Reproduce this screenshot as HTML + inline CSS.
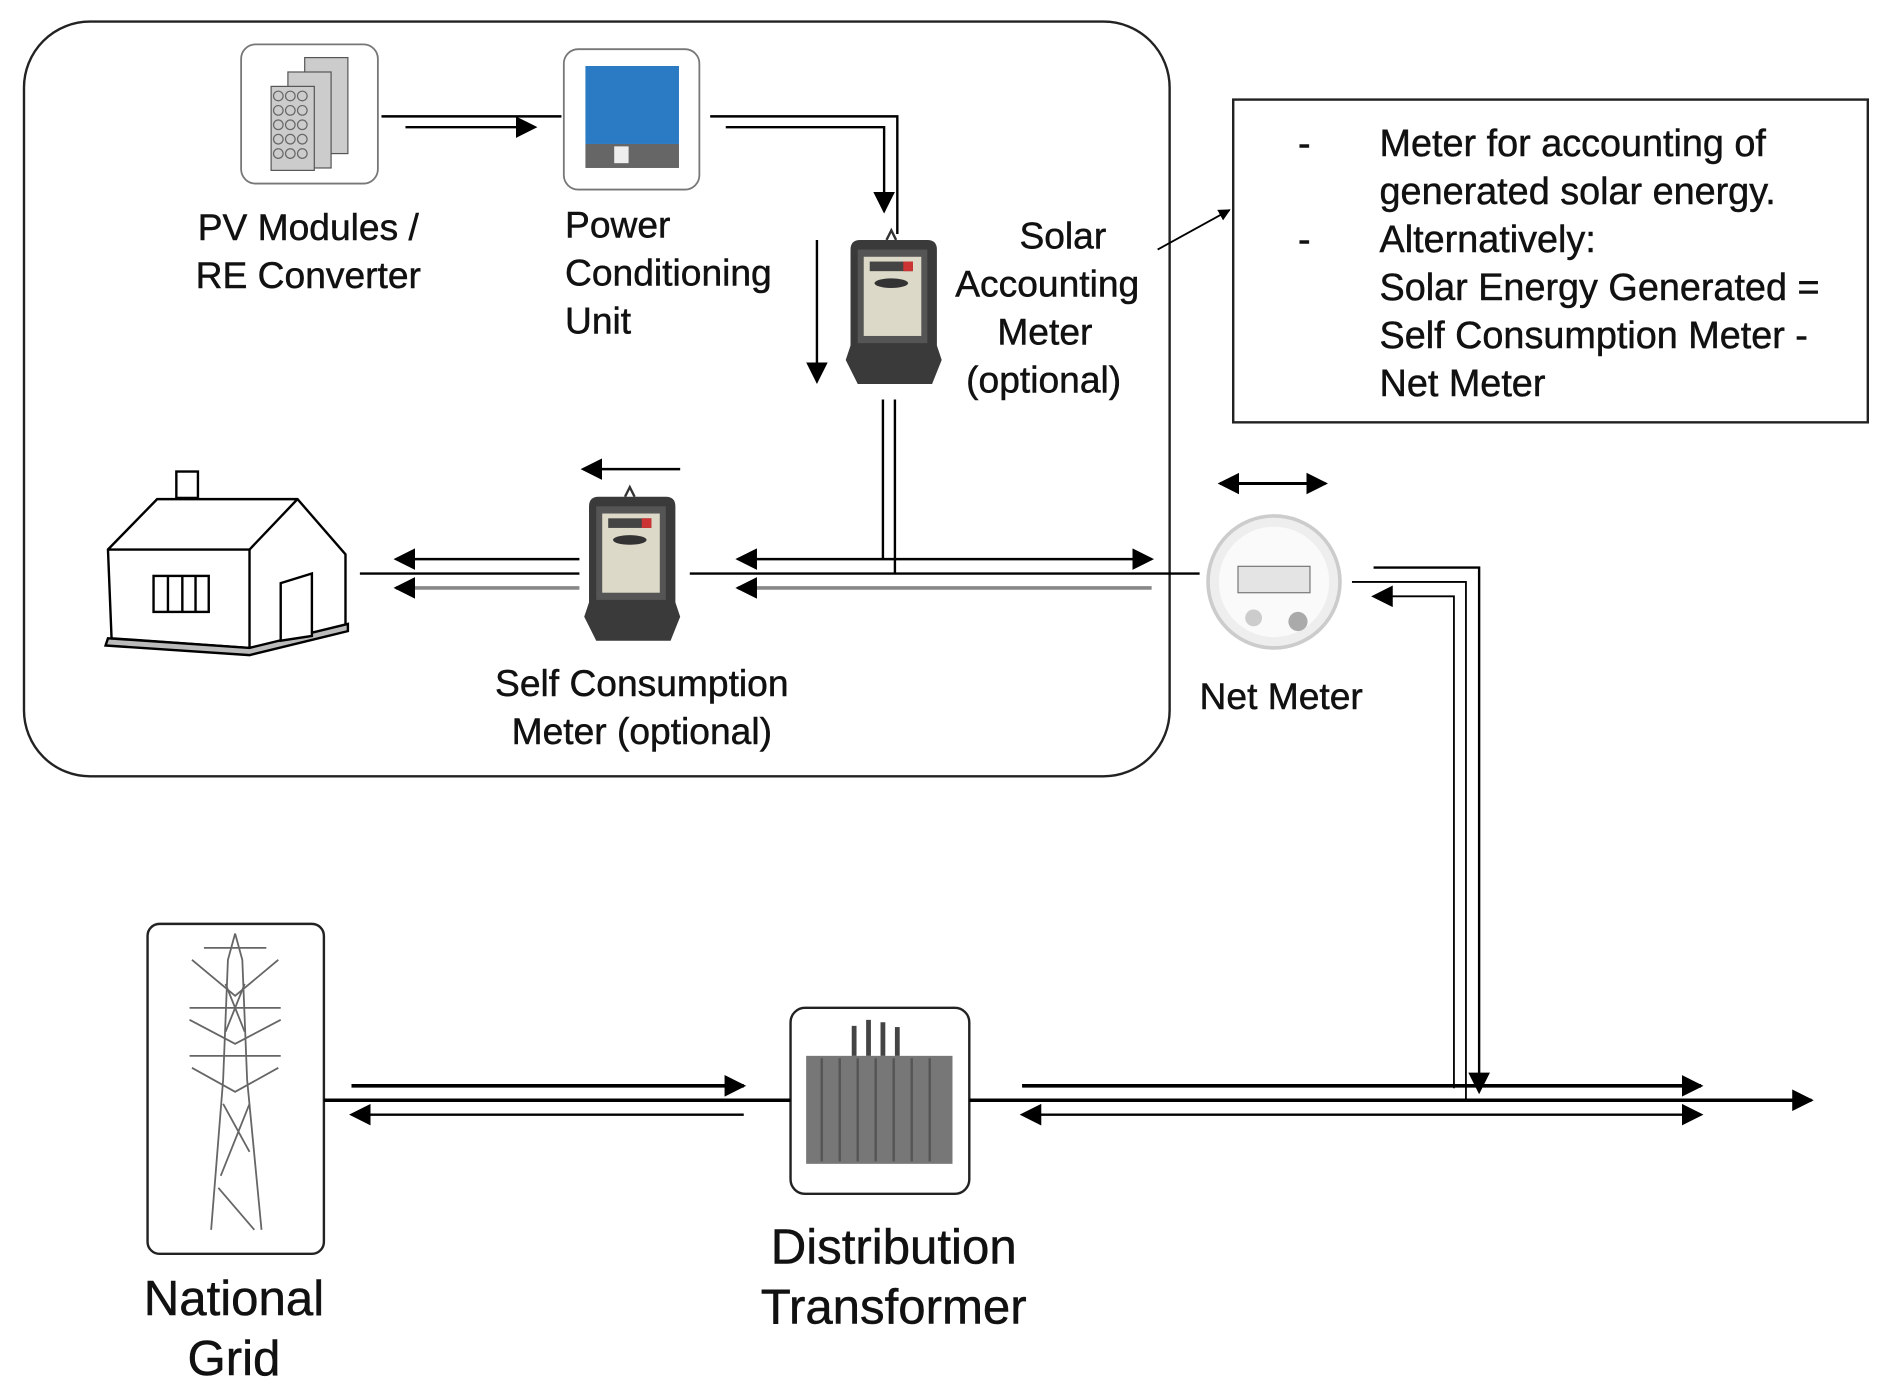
<!DOCTYPE html>
<html><head><meta charset="utf-8"><style>
html,body{margin:0;padding:0;background:#fff;}
svg{display:block;}
text{font-family:"Liberation Sans",Arial,sans-serif;fill:#111;stroke:#111;stroke-width:0.4;}
</style></head><body>
<svg width="1881" height="1399" viewBox="0 0 1568 1166" preserveAspectRatio="none" xmlns="http://www.w3.org/2000/svg">
<defs>
<marker id="ah" markerWidth="10" markerHeight="10" refX="9" refY="5" orient="auto" markerUnits="userSpaceOnUse"><path d="M0,0 L10,5 L0,10 z" fill="#000"/></marker>
<marker id="ahb" markerWidth="18" markerHeight="18" refX="16" refY="9" orient="auto-start-reverse" markerUnits="userSpaceOnUse"><path d="M0,0 L18,9 L0,18 z" fill="#000"/></marker>
<g id="meter">
<path d="M4,8 Q4,0 12,0 L68,0 Q76,0 76,8 L76,88 L80,100 L72,120 L10,120 L0,100 L4,88 Z" fill="#3a3a3a"/>
<rect x="10" y="8" width="58" height="78" fill="#555"/>
<rect x="15" y="14" width="48" height="66" fill="#ddd9c8"/>
<rect x="20" y="18" width="36" height="8" fill="#444"/>
<rect x="48" y="18" width="8" height="8" fill="#c33"/>
<ellipse cx="38" cy="36" rx="14" ry="4" fill="#333"/>
<path d="M34,0 L38,-8 L42,0" fill="none" stroke="#333" stroke-width="2"/>
</g>
</defs>

<rect x="20" y="18" width="955" height="629" rx="55" fill="none" stroke="#222" stroke-width="2"/>

<!-- PV modules -->
<rect x="201" y="37" width="114" height="116" rx="12" fill="#fff" stroke="#777" stroke-width="1.5"/>
<g stroke="#555" fill="#ccc" stroke-width="1">
<rect x="254" y="48" width="36" height="80"/>
<rect x="240" y="60" width="36" height="80"/>
<rect x="226" y="72" width="36" height="70"/>
</g>
<g fill="none" stroke="#666" stroke-width="1">
<circle cx="232" cy="80" r="4"/><circle cx="242" cy="80" r="4"/><circle cx="252" cy="80" r="4"/>
<circle cx="232" cy="92" r="4"/><circle cx="242" cy="92" r="4"/><circle cx="252" cy="92" r="4"/>
<circle cx="232" cy="104" r="4"/><circle cx="242" cy="104" r="4"/><circle cx="252" cy="104" r="4"/>
<circle cx="232" cy="116" r="4"/><circle cx="242" cy="116" r="4"/><circle cx="252" cy="116" r="4"/>
<circle cx="232" cy="128" r="4"/><circle cx="242" cy="128" r="4"/><circle cx="252" cy="128" r="4"/>
</g>
<text x="257" y="200" font-size="31" text-anchor="middle">PV Modules /</text>
<text x="257" y="240" font-size="31" text-anchor="middle">RE Converter</text>

<!-- PCU -->
<rect x="470" y="41" width="113" height="117" rx="12" fill="#fff" stroke="#777" stroke-width="1.5"/>
<rect x="488" y="55" width="78" height="65" fill="#2b7bc4"/>
<rect x="488" y="120" width="78" height="20" fill="#666"/>
<rect x="512" y="122" width="12" height="14" fill="#eee"/>
<text x="471" y="198" font-size="31">Power</text>
<text x="471" y="238" font-size="31">Conditioning</text>
<text x="471" y="278" font-size="31">Unit</text>

<line x1="318" y1="97" x2="468" y2="97" stroke="#000" stroke-width="2"/>
<line x1="338" y1="106" x2="446" y2="106" stroke="#000" stroke-width="2" marker-end="url(#ahb)"/>
<polyline points="592,97 748,97 748,195" fill="none" stroke="#000" stroke-width="2"/>
<polyline points="605,106 737,106 737,176" fill="none" stroke="#000" stroke-width="2" marker-end="url(#ahb)"/>
<line x1="681" y1="200" x2="681" y2="318" stroke="#000" stroke-width="2" marker-end="url(#ahb)"/>

<use href="#meter" x="705" y="200"/>
<text x="886" y="207" font-size="31" text-anchor="middle">Solar</text>
<text x="873" y="247" font-size="31" text-anchor="middle">Accounting</text>
<text x="871" y="287" font-size="31" text-anchor="middle">Meter</text>
<text x="870" y="327" font-size="31" text-anchor="middle">(optional)</text>

<line x1="736" y1="333" x2="736" y2="466" stroke="#000" stroke-width="2"/>
<line x1="746" y1="333" x2="746" y2="478" stroke="#000" stroke-width="2"/>

<!-- house -->
<g fill="#fff" stroke="#000" stroke-width="2">
<rect x="147" y="393" width="18" height="22"/>
<polygon points="90,458 131,416 248,416 288,462 288,522 208,540 93,532"/>
<polyline points="90,458 208,458 248,416" fill="none"/>
<line x1="208" y1="458" x2="208" y2="540"/>
<polygon points="90,532 208,540 290,520 290,526 208,546 88,538" fill="#bbb"/>
<rect x="128" y="480" width="46" height="30"/>
<line x1="140" y1="480" x2="140" y2="510"/><line x1="152" y1="480" x2="152" y2="510"/><line x1="163" y1="480" x2="163" y2="510"/>
<polygon points="234,486 260,478 260,530 234,534"/>
</g>

<line x1="567" y1="391" x2="486" y2="391" stroke="#000" stroke-width="2" marker-end="url(#ahb)"/>
<use href="#meter" x="487" y="414"/>
<text x="535" y="580" font-size="31" text-anchor="middle">Self Consumption</text>
<text x="535" y="620" font-size="31" text-anchor="middle">Meter (optional)</text>

<line x1="483" y1="466" x2="330" y2="466" stroke="#000" stroke-width="2" marker-end="url(#ahb)"/>
<line x1="300" y1="478" x2="483" y2="478" stroke="#000" stroke-width="2"/>
<line x1="483" y1="490" x2="330" y2="490" stroke="#888" stroke-width="3" marker-end="url(#ahb)"/>
<line x1="960" y1="466" x2="615" y2="466" stroke="#000" stroke-width="2" marker-end="url(#ahb)" marker-start="url(#ahb)"/>
<line x1="575" y1="478" x2="1000" y2="478" stroke="#000" stroke-width="2"/>
<line x1="960" y1="490" x2="615" y2="490" stroke="#888" stroke-width="3" marker-end="url(#ahb)"/>

<!-- Net meter -->
<line x1="1017" y1="403" x2="1105" y2="403" stroke="#000" stroke-width="2.5" marker-end="url(#ahb)" marker-start="url(#ahb)"/>
<circle cx="1062" cy="485" r="55" fill="#eee" stroke="#ccc" stroke-width="3"/>
<circle cx="1062" cy="485" r="46" fill="#fafafa"/>
<rect x="1032" y="472" width="60" height="22" fill="#e4e4e4" stroke="#777"/>
<circle cx="1045" cy="515" r="7" fill="#ccc"/><circle cx="1082" cy="518" r="8" fill="#aaa"/>
<text x="1068" y="591" font-size="31" text-anchor="middle">Net Meter</text>
<polyline points="1145,473 1233,473 1233,910" fill="none" stroke="#000" stroke-width="2" marker-end="url(#ahb)"/>
<polyline points="1127,485 1222,485 1222,917" fill="none" stroke="#000" stroke-width="1.5"/>
<polyline points="1212,907 1212,497 1145,497" fill="none" stroke="#000" stroke-width="1.5" marker-end="url(#ahb)"/>

<!-- info box -->
<rect x="1028" y="83" width="529" height="269" fill="#fff" stroke="#222" stroke-width="2"/>
<line x1="965" y1="208" x2="1025" y2="175" stroke="#000" stroke-width="1.5" marker-end="url(#ah)"/>
<g font-size="31.5">
<text x="1082" y="130">-</text>
<text x="1150" y="130">Meter for accounting of</text>
<text x="1150" y="170">generated solar energy.</text>
<text x="1082" y="210">-</text>
<text x="1150" y="210">Alternatively:</text>
<text x="1150" y="250">Solar Energy Generated =</text>
<text x="1150" y="290">Self Consumption Meter -</text>
<text x="1150" y="330">Net Meter</text>
</g>

<!-- National grid -->
<rect x="123" y="770" width="147" height="275" rx="10" fill="#fff" stroke="#222" stroke-width="2"/>
<g stroke="#666" stroke-width="1.5" fill="none">
<polyline points="196,778 190,800 186,900 176,1025"/>
<polyline points="196,778 202,800 206,900 218,1025"/>
<path d="M170,790 L222,790 M158,840 L234,840 M158,880 L234,880 M188,820 L204,860 M204,820 L188,860 M186,920 L208,960 M208,920 L184,980 M182,990 L212,1025"/>
<path d="M160,800 L196,830 L232,800 M158,850 L196,870 L234,850 M160,890 L196,910 L232,890"/>
</g>
<text x="195" y="1096" font-size="41" text-anchor="middle">National</text>
<text x="195" y="1146" font-size="41" text-anchor="middle">Grid</text>

<!-- Transformer -->
<rect x="659" y="840" width="149" height="155" rx="12" fill="#fff" stroke="#222" stroke-width="2"/>
<rect x="672" y="880" width="122" height="90" fill="#777"/>
<g stroke="#555" stroke-width="2"><line x1="685" y1="882" x2="685" y2="968"/><line x1="700" y1="882" x2="700" y2="968"/><line x1="715" y1="882" x2="715" y2="968"/><line x1="730" y1="882" x2="730" y2="968"/><line x1="745" y1="882" x2="745" y2="968"/><line x1="760" y1="882" x2="760" y2="968"/><line x1="775" y1="882" x2="775" y2="968"/></g>
<g stroke="#444" stroke-width="4"><line x1="712" y1="855" x2="712" y2="880"/><line x1="724" y1="850" x2="724" y2="880"/><line x1="736" y1="852" x2="736" y2="880"/><line x1="748" y1="856" x2="748" y2="880"/></g>
<text x="745" y="1053" font-size="41" text-anchor="middle">Distribution</text>
<text x="745" y="1103" font-size="41" text-anchor="middle">Transformer</text>

<line x1="293" y1="905" x2="620" y2="905" stroke="#000" stroke-width="3" marker-end="url(#ahb)"/>
<line x1="270" y1="917" x2="659" y2="917" stroke="#000" stroke-width="3"/>
<line x1="620" y1="929" x2="293" y2="929" stroke="#000" stroke-width="2" marker-end="url(#ahb)"/>
<line x1="852" y1="905" x2="1418" y2="905" stroke="#000" stroke-width="3" marker-end="url(#ahb)"/>
<line x1="808" y1="917" x2="1510" y2="917" stroke="#000" stroke-width="3" marker-end="url(#ahb)"/>
<line x1="1418" y1="929" x2="852" y2="929" stroke="#000" stroke-width="2" marker-end="url(#ahb)" marker-start="url(#ahb)"/>
</svg>
</body></html>
